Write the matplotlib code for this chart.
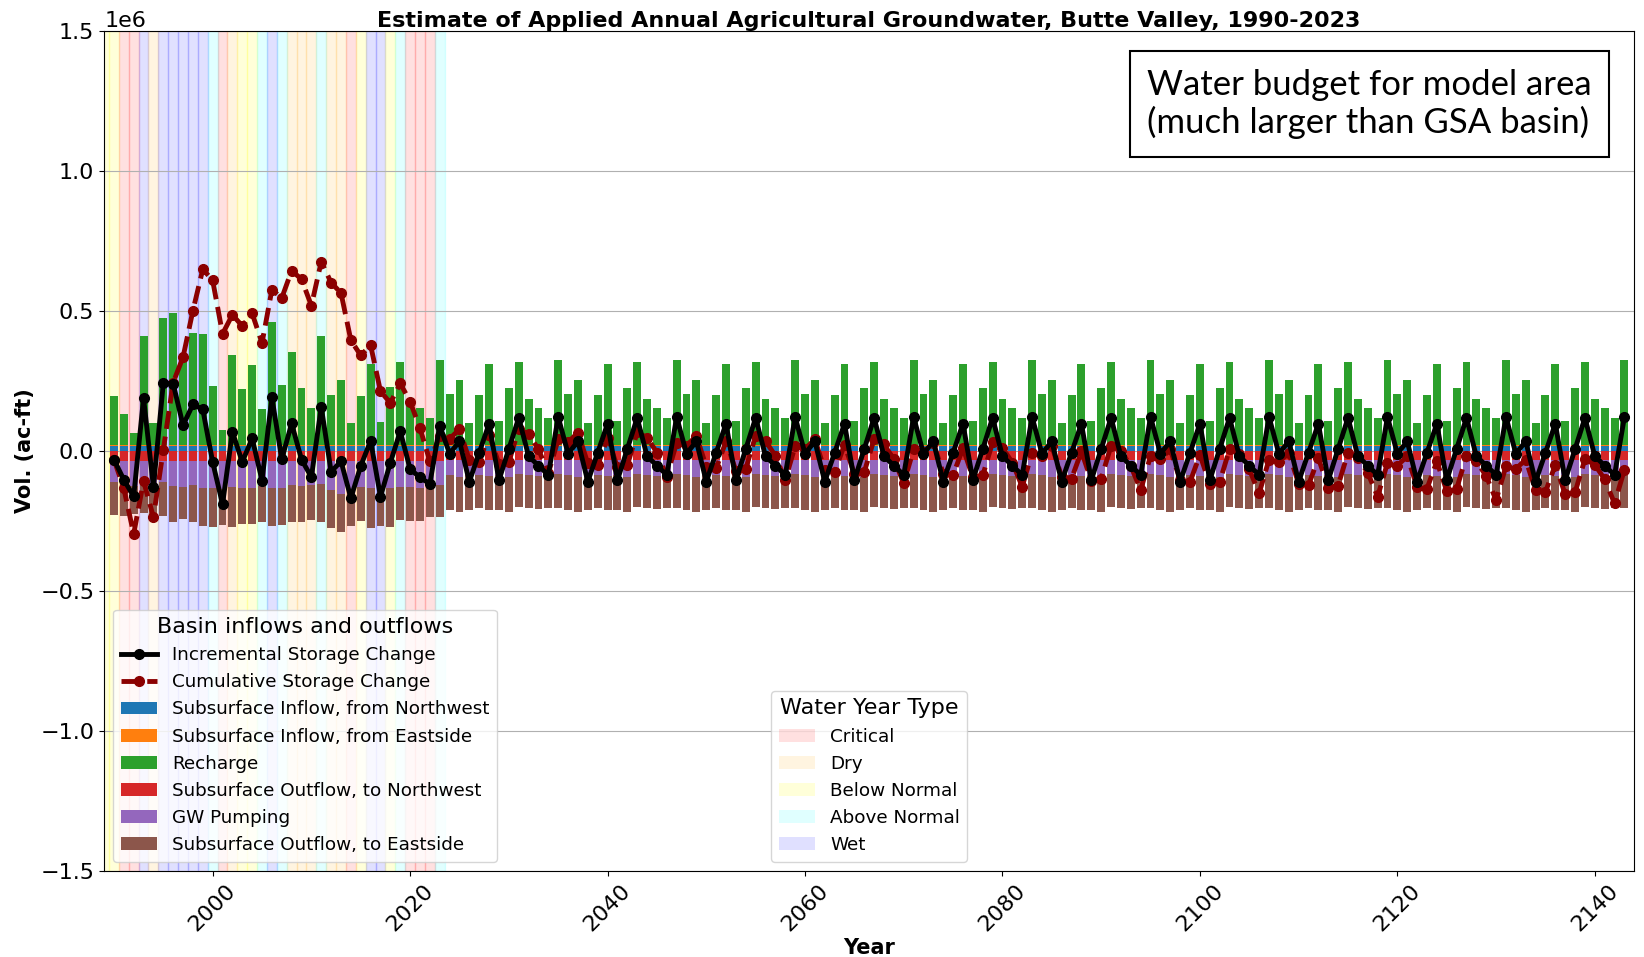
import numpy as np
import matplotlib
matplotlib.use('Agg')
import matplotlib.pyplot as plt
from matplotlib.patches import Patch

# values in thousand acre-feet
hist_years = list(range(1990, 2024))
hist_inflow_nw = [19, 19, 19, 19, 19, 19, 19, 19, 19, 19, 19, 19, 19, 19, 19, 19, 19,
                  19, 19, 19, 19, 19, 19, 19, 19, 19, 19, 19, 19, 19, 19, 19, 19, 19]
hist_inflow_east = [1, 1, 1, 1, 1, 1, 1, 1, 1, 1, 1, 1, 1, 1, 1, 1, 1,
                    1, 1, 1, 1, 1, 1, 1, 1, 1, 1, 1, 1, 1, 1, 1, 1, 1]
hist_recharge = [177, 110, 44, 390, 78, 453, 473, 313, 400, 398, 211, 53, 321, 202, 286, 128, 440,
                 214, 334, 205, 134, 391, 181, 232, 81, 177, 292, 84, 209, 298, 166, 134, 98, 306]
hist_outflow_nw = [37, 37, 37, 37, 37, 37, 37, 37, 37, 37, 37, 37, 37, 37, 37, 37, 37,
                   37, 37, 37, 37, 37, 37, 37, 37, 37, 37, 37, 37, 37, 37, 37, 37, 37]
hist_pumping = [75, 80, 88, 65, 80, 74, 89, 91, 85, 94, 97, 101, 91, 94, 97, 89, 97,
                94, 85, 89, 85, 83, 103, 118, 108, 91, 97, 111, 97, 91, 91, 97, 97, 85]
hist_outflow_east = [116, 116, 102, 119, 110, 121, 127, 114, 132, 139, 137, 126, 145, 131, 127, 128, 135,
                     133, 134, 130, 126, 134, 136, 134, 125, 123, 142, 120, 137, 120, 123, 115, 102, 114]
hist_storage = [-31, -103, -163, 189, -129, 241, 240, 91, 166, 148, -40, -191, 68, -40, 45, -106, 191,
                -30, 98, -31, -94, 157, -75, -37, -169, -54, 36, -164, -42, 70, -65, -95, -118, 90]

# projection 2024-2143 repeats the same 12-year sequence ten times
n_cycles = 10
proj_inflow_nw = [19, 19, 19, 19, 19, 19, 19, 19, 19, 19, 19, 19]
proj_inflow_east = [1, 1, 1, 1, 1, 1, 1, 1, 1, 1, 1, 1]
proj_recharge = [182, 232, 80, 178, 290, 85, 206, 298, 166, 134, 98, 306]
proj_outflow_nw = [33, 33, 33, 33, 33, 33, 33, 33, 33, 33, 33, 33]
proj_pumping = [55, 59, 52, 52, 57, 54, 62, 49, 53, 57, 51, 49]
proj_outflow_east = [124, 126, 125, 119, 123, 123, 124, 118, 119, 117, 120, 123]
proj_storage = [-10, 34, -110, -6, 97, -105, 7, 118, -19, -53, -86, 121]

# water year types, 1989-2023
wy_years = list(range(1989, 2024))
wy_types = ['BN', 'BN', 'C', 'C', 'W', 'D', 'W', 'W', 'W', 'W', 'W', 'AN', 'C', 'D', 'BN', 'BN', 'AN',
            'W', 'AN', 'D', 'D', 'D', 'AN', 'D', 'D', 'C', 'BN', 'W', 'W', 'BN', 'AN', 'C', 'C', 'C', 'AN']

wy_names = {'C': 'Critical', 'D': 'Dry', 'BN': 'Below Normal', 'AN': 'Above Normal', 'W': 'Wet'}
wy_colors = {'C': 'red', 'D': 'orange', 'BN': 'yellow', 'AN': 'cyan', 'W': 'blue'}


def full_series(hist, proj):
    return np.array(hist + proj * n_cycles) * 1000.0


def main():
    years = np.array(hist_years + list(range(2024, 2024 + 12 * n_cycles)))
    inflow_nw = full_series(hist_inflow_nw, proj_inflow_nw)
    inflow_east = full_series(hist_inflow_east, proj_inflow_east)
    recharge = full_series(hist_recharge, proj_recharge)
    outflow_nw = -full_series(hist_outflow_nw, proj_outflow_nw)
    pumping = -full_series(hist_pumping, proj_pumping)
    outflow_east = -full_series(hist_outflow_east, proj_outflow_east)
    storage = full_series(hist_storage, proj_storage)
    cumulative = np.cumsum(storage)

    fig = plt.figure(figsize=(16.44, 9.57), dpi=100)
    ax = fig.add_axes([0.0633, 0.0902, 0.9308, 0.8774])

    for yr, t in zip(wy_years, wy_types):
        a = 0.15 if t == 'BN' else 0.12
        ax.axvspan(yr - 0.5, yr + 0.5, color=wy_colors[t], alpha=a, zorder=0)

    w = 0.8
    b1 = ax.bar(years, inflow_nw, w, color='tab:blue', label='Subsurface Inflow, from Northwest', zorder=2)
    b2 = ax.bar(years, inflow_east, w, bottom=inflow_nw, color='tab:orange',
                label='Subsurface Inflow, from Eastside', zorder=2)
    b3 = ax.bar(years, recharge, w, bottom=inflow_nw + inflow_east, color='tab:green',
                label='Recharge', zorder=2)
    b4 = ax.bar(years, outflow_nw, w, color='tab:red', label='Subsurface Outflow, to Northwest', zorder=2)
    b5 = ax.bar(years, pumping, w, bottom=outflow_nw, color='tab:purple', label='GW Pumping', zorder=2)
    b6 = ax.bar(years, outflow_east, w, bottom=outflow_nw + pumping, color='tab:brown',
                label='Subsurface Outflow, to Eastside', zorder=2)

    l1, = ax.plot(years, storage, color='black', lw=3.5, marker='o', ms=7,
                  label='Incremental Storage Change', zorder=4)
    l2, = ax.plot(years, cumulative, color='darkred', lw=3.5, ls='--', marker='o', ms=7,
                  label='Cumulative Storage Change', zorder=3)

    ax.set_xlim(1989, 2144)
    ax.set_ylim(-1.5e6, 1.5e6)
    ax.set_yticks([-1.5e6, -1.0e6, -0.5e6, 0, 0.5e6, 1.0e6, 1.5e6])
    ax.set_axisbelow(True)
    ax.yaxis.grid(True)
    ax.tick_params(axis='both', labelsize=16)
    ax.yaxis.get_offset_text().set_fontsize(16)
    plt.setp(ax.get_xticklabels(), rotation=45)

    ax.set_xlabel('Year', fontsize=15, fontweight='bold', labelpad=2)
    ax.set_ylabel('Vol. (ac-ft)', fontsize=15, fontweight='bold')
    ax.set_title('Estimate of Applied Annual Agricultural Groundwater, Butte Valley, 1990-2023',
                 fontsize=16, fontweight='bold', pad=3)

    leg1 = ax.legend(handles=[l1, l2, b1, b2, b3, b4, b5, b6], loc='lower left',
                     title='Basin inflows and outflows', fontsize=13.2, title_fontsize=16)
    ax.add_artist(leg1)

    wy_handles = []
    for t in ['C', 'D', 'BN', 'AN', 'W']:
        a = 0.15 if t == 'BN' else 0.12
        wy_handles.append(Patch(facecolor=wy_colors[t], alpha=a, label=wy_names[t]))
    ax.legend(handles=wy_handles, loc='lower center', title='Water Year Type',
              fontsize=13.2, title_fontsize=16)

    ax.text(0.6815, 0.913, 'Water budget for model area\n(much larger than GSA basin)',
            transform=ax.transAxes, family='Lato', fontsize=25, ha='left', va='center',
            linespacing=1.2, zorder=6,
            bbox=dict(boxstyle='square,pad=0.5', facecolor='white', edgecolor='black', lw=1.5))

    fig.savefig('out.png', dpi=100)


if __name__ == '__main__':
    main()
